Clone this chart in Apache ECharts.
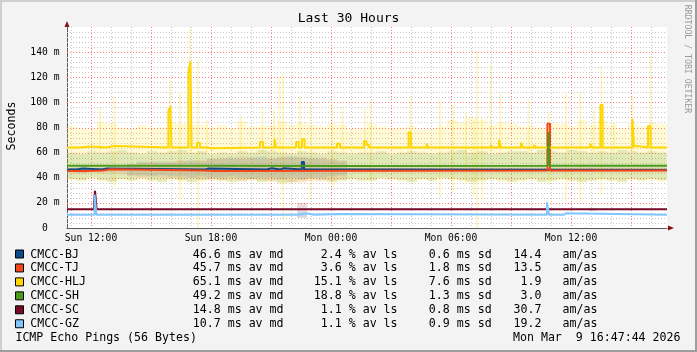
<!DOCTYPE html>
<html>
<head>
<meta charset="utf-8">
<script src="https://cdn.jsdelivr.net/npm/echarts@6/dist/echarts.min.js"></script>
<style>
html, body { margin: 0; padding: 0; background: #f3f3f3; }
#chart { width: 697px; height: 352px; }
</style>
</head>
<body>
<div id="chart"></div>
<script>
// time axis in hours since Sun 00:00
const xMin = 10.8, xMax = 40.8;
const yMin = 0, yMax = 160;
const minorHours = [11,13,14,16,17,19,20,22,23,25,26,28,29,31,32,34,35,37,38,40];
const majorHours = [12,15,18,21,24,27,30,33,36,39];
const xLabelHours = [12,18,24,30,36];
const xLabelTexts = ['Sun 12:00','Sun 18:00','Mon 00:00','Mon 06:00','Mon 12:00'];
const yMajor = [0,20,40,60,80,100,120,140];
const yMinor = [4,8,12,16,24,28,32,36,44,48,52,56,64,68,72,76,84,88,92,96,104,108,112,116,124,128,132,136,144,148,152,156];

const names  = ['CMCC-BJ','CMCC-TJ','CMCC-HLJ','CMCC-SH','CMCC-SC','CMCC-GZ'];
const colors = ['#0c4a88','#f5461a','#ffd700','#4a9a1e','#780a28','#82c6ff'];
const avgMs  = ['46.6','45.7','65.1','49.2','14.8','10.7'];
const lossPct = ['2.4','3.6','15.1','18.8','1.1','1.1'];
const sdMs   = ['0.6','1.8','7.6','1.3','0.8','0.9'];
const amas   = ['14.4','13.5','1.9','3.0','30.7','19.2'];

// median lines: [hour, ms] change points
const bjMedian = [[10.8,46.5],[11.3,47.3],[11.6,46.5],[12.54,47.3],[12.79,46.5],[17.7,47.3],[17.85,46.5],[20.79,47.5],[21.04,46.5],[21.45,47.5],[21.62,46.5],[22.54,52.6],[22.65,46.5],[24.3,46.2],[40.8,46.2]];
const tjMedian = [[10.8,45.4],[11.8,45.8],[12.6,46.8],[13.0,45.8],[17.6,45.3],[18.2,45.8],[34.82,82.9],[34.95,45.8],[40.8,45.8]];
const hljMedian = [[10.8,64],[11.45,64.8],[11.95,64],[12.75,65.2],[13.2,64],[15.87,93.5],[15.97,97],[16.02,64],[16.87,124.3],[16.97,132.7],[17.03,64],[17.3,67.7],[17.45,64],[17.8,63.4],[18.05,64],[20.45,68.5],[20.6,64],[21.18,70.7],[21.25,64],[22.25,68.5],[22.38,64],[22.55,70.7],[22.68,64],[24.3,67],[24.45,64],[25.65,69],[25.77,66],[25.9,64],[27.88,76.3],[28.0,64],[28.78,67],[28.87,64],[32.0,66],[32.05,64],[32.4,70],[32.5,64],[33.5,68],[33.6,64],[34.15,66],[34.25,64],[36.97,67],[37.07,64],[37.47,98],[37.58,64],[39.07,87],[39.15,65],[39.4,64],[39.85,81],[39.98,64],[40.8,64]];
const shMedian = [[10.8,49.6],[18.3,49.3],[24.6,49.6],[34.86,76.3],[34.92,49.6],[40.8,49.6]];
const scMedian = [[10.8,14.9],[12.15,20],[12.2,29.5],[12.28,14.9],[40.8,14.9]];
const gzMedian = [[10.8,10.6],[12.18,26.5],[12.27,10.6],[22.3,11.6],[22.8,10.6],[23.15,11.2],[24.4,10.6],[34.8,20.4],[34.9,10.6],[35.18,11.8],[35.28,10.6],[35.65,11.8],[35.76,10.6],[40.8,10.6]];

// smoke, 30 minute bins from xMin
const smokeStep = 0.5;
const hljHi = [81,79,79,84,83,80,79,82,80,80,84,83,82,82,80,82,80,85,81,81,82,85,82,84,82,81,83,82,79,79,83,81,79,80,81,78,79,81,86,84,88,86,82,84,83,81,81,80,83,83,81,86,82,86,82,79,83,81,84,83];
const hljLo = [38,37,39,37,36,38,37,38,37,36,38,37,36,37,38,37,36,37,38,36,37,35,36,37,38,37,36,37,38,37,37,39,38,37,36,38,37,39,38,37,36,37,38,37,36,37,38,36,37,38,37,36,37,38,37,36,38,37,38,37];
const shHi = [60,59,61,60,61,62,60,59,61,60,61,62,60,61,59,60,59,61,60,62,61,60,59,61,60,59,61,60,59,60,60,61,59,60,61,60,59,60,61,62,60,61,59,60,61,61,60,62,61,60,62,61,60,61,60,62,61,60,61,60];
const shLo = [39,38,40,38,37,39,38,40,38,37,39,38,37,38,39,38,37,38,39,37,38,36,37,38,39,38,37,38,39,38,38,40,39,38,37,39,38,40,39,38,37,38,39,38,37,38,39,37,38,39,38,37,38,39,38,37,39,38,39,38];
const tjHi = [48,48,48,48,48,48,51,52,53,52,53,54,53,54,55,56,55,57,56,55,56,57,56,57,55,56,55,54,48,48,48,48,48,48,48,48,48,48,48,48,48,48,48,48,48,48,48,48,48,48,48,48,48,48,48,48,48,48,48,48];
const tjLo = [43,43,44,43,43,43,41,40,41,40,40,39,40,39,38,38,39,37,38,38,37,38,36,36,37,38,38,39,44,44,44,44,44,44,44,44,44,44,44,44,44,44,44,44,44,44,44,44,44,44,44,44,44,44,44,44,44,44,44,44];
const bjHi = [48,49,48,48,48,48,51,53,52,53,52,53,54,53,55,55,56,55,56,57,55,56,57,56,56,55,54,53,48,48,48,48,48,48,48,48,48,48,48,48,48,48,48,48,48,48,48,48,48,48,48,48,48,48,48,48,48,48,48,48];
const bjLo = [45,44,45,45,45,45,42,42,41,42,41,41,40,41,40,40,41,40,39,40,40,39,40,39,40,40,41,42,45,45,45,45,45,45,45,45,45,45,45,45,45,45,45,45,45,45,45,45,45,45,45,45,45,45,45,45,45,45,45,45];
const scSmoke = [[22.3,22.8,8,20],[36.9,37.3,13.5,15.8]];
const gzSmoke = [[22.3,22.8,9,13],[23.15,24.4,10,12]];
// thin smoke spikes of CMCC-HLJ: [hour, low, high]
const hljSpikes = [[12.45,60,96],[13.17,33,105],[15.95,60,118],[16.45,22.5,107.5],[16.95,60,160],[17.35,0,134],[17.8,60,86],[19.48,60,90],[20.57,60,96],[21.15,60,94],[21.43,60,121],[21.6,6.6,123],[22.45,60,105],[22.98,22.6,100],[24.07,33,100],[24.57,60,97],[25.7,60,95],[25.98,38,102],[27.98,60,105],[29.45,24,102],[30.1,29,98],[30.75,35,92],[31.15,25,85],[31.3,0,141],[31.55,22,88],[31.98,60,130],[32.47,60,107],[33.88,60,102],[34.9,35,92],[35.75,21,107],[36.47,21,108.5],[37.15,60,94],[37.52,26,129],[38.15,60,84],[39.08,60,106],[39.97,60,137]];

const mono = 'DejaVu Sans Mono';
const gridGray = '#c8c8c8', gridRed = '#ff7878';

function bins(lo, hi) {
  return lo.map((v, i) => [xMin + i * smokeStep, xMin + (i + 1) * smokeStep, v, hi[i]]);
}

function bandSeries(data, fill) {
  return {
    type: 'custom',
    clip: true,
    silent: true,
    encode: { x: [0, 1], y: [2, 3] },
    data: data,
    renderItem: function (params, api) {
      const a = api.coord([api.value(0), api.value(3)]);
      const b = api.coord([api.value(1), api.value(2)]);
      return { type: 'rect', shape: { x: a[0], y: a[1], width: b[0] - a[0], height: b[1] - a[1] }, style: { fill: fill } };
    }
  };
}

function spikeSeries(data, fill) {
  return {
    type: 'custom',
    clip: true,
    silent: true,
    encode: { x: 0, y: [1, 2] },
    data: data,
    renderItem: function (params, api) {
      const a = api.coord([api.value(0), api.value(2)]);
      const b = api.coord([api.value(0), api.value(1)]);
      return { type: 'rect', shape: { x: a[0] - 1, y: a[1], width: 2, height: b[1] - a[1] }, style: { fill: fill } };
    }
  };
}

// dotted grid lines placed through the axis scales
function vGridSeries(hours, color) {
  return {
    type: 'custom', silent: true, z: 1,
    encode: { x: 0, y: 1 },
    data: hours.map(h => [h, yMin]),
    renderItem: function (params, api) {
      const top = api.coord([api.value(0), yMax]);
      const bot = api.coord([api.value(0), yMin]);
      const x = Math.round(top[0]) + 0.5;
      return { type: 'line', shape: { x1: x, y1: top[1], x2: x, y2: bot[1] }, style: { stroke: color, fill: null, lineWidth: 1, lineDash: [1, 2] } };
    }
  };
}

function hGridSeries(values, color) {
  return {
    type: 'custom', silent: true, z: 1,
    encode: { x: 0, y: 1 },
    data: values.map(v => [xMin, v]),
    renderItem: function (params, api) {
      const l = api.coord([xMin, api.value(1)]);
      const r = api.coord([xMax, api.value(1)]);
      const y = Math.round(l[1]) + 0.5;
      return { type: 'line', shape: { x1: l[0], y1: y, x2: r[0], y2: y }, style: { stroke: color, fill: null, lineWidth: 1, lineDash: [1, 2] } };
    }
  };
}

function medianSeries(data, color) {
  return {
    type: 'line',
    step: 'end',
    symbol: 'none',
    silent: true,
    data: data,
    lineStyle: { color: color, width: 2 },
    z: 5
  };
}

const medians = [bjMedian, tjMedian, hljMedian, shMedian, scMedian, gzMedian];

// legend block drawn as text
const legendTop = 254.5, rowGap = 13.95;
const legend = [];
names.forEach((n, i) => {
  const y = legendTop + i * rowGap;
  const txt = (x, s) => ({ type: 'text', x: x, y: y, style: { text: s, fontFamily: mono, fontSize: 11.6, fill: '#000', textAlign: 'left', textVerticalAlign: 'middle' } });
  legend.push({ type: 'rect', shape: { x: 15.5, y: y - 4.5, width: 8, height: 8 }, style: { fill: colors[i], stroke: '#000', lineWidth: 1 } });
  legend.push(txt(30.2, n));
  legend.push(txt(192.8, avgMs[i] + ' ms av md'));
  legend.push(txt(313.8, lossPct[i].padStart(4) + ' % av ls'));
  legend.push(txt(428.8, sdMs[i] + ' ms sd'));
  legend.push(txt(513.6, amas[i].padStart(4) + '   am/as'));
});

const chart = echarts.init(document.getElementById('chart'));
chart.setOption({
  animation: false,
  backgroundColor: '#f3f3f3',
  grid: { left: 67, top: 27, width: 600, height: 201, show: true, backgroundColor: '#ffffff', borderWidth: 0 },
  xAxis: {
    type: 'value', min: xMin, max: xMax,
    axisLine: { show: true, lineStyle: { color: '#5a5a5a', width: 1 } },
    axisTick: { show: false },
    axisLabel: {
      customValues: xLabelHours, margin: 5, fontFamily: mono, fontSize: 9.7, color: '#000',
      formatter: v => xLabelTexts[xLabelHours.indexOf(v)]
    },
    splitLine: { show: false }
  },
  yAxis: {
    type: 'value', min: yMin, max: yMax,
    axisLine: { show: true, lineStyle: { color: '#5a5a5a', width: 1 } },
    axisTick: { show: false },
    axisLabel: {
      customValues: yMajor, margin: 7.5, fontFamily: mono, fontSize: 9.7, color: '#000',
      formatter: v => v === 0 ? '0  ' : v + ' m'
    },
    splitLine: { show: false }
  },
  series: [
    vGridSeries(minorHours, gridGray),
    hGridSeries(yMinor, gridGray),
    vGridSeries(majorHours, gridRed),
    hGridSeries(yMajor.filter(v => v > 0), gridRed),
    bandSeries(bins(hljLo, hljHi), 'rgba(255,215,0,0.16)'),
    spikeSeries(hljSpikes, 'rgba(255,215,0,0.2)'),
    bandSeries(bins(shLo, shHi), 'rgba(76,154,30,0.17)'),
    bandSeries(bins(tjLo, tjHi), 'rgba(245,70,26,0.11)'),
    bandSeries(bins(bjLo, bjHi), 'rgba(12,74,136,0.1)'),
    bandSeries(scSmoke, 'rgba(120,10,40,0.14)'),
    bandSeries(gzSmoke, 'rgba(130,198,255,0.25)')
  ].concat(medians.map((m, i) => medianSeries(m, colors[i]))),
  graphic: [
    { type: 'rect', shape: { x: 0, y: 0, width: 697, height: 2 }, style: { fill: '#cfcfcf' } },
    { type: 'rect', shape: { x: 0, y: 0, width: 2, height: 352 }, style: { fill: '#cfcfcf' } },
    { type: 'rect', shape: { x: 695, y: 0, width: 2, height: 352 }, style: { fill: '#9e9e9e' } },
    { type: 'rect', shape: { x: 0, y: 350, width: 697, height: 2 }, style: { fill: '#9e9e9e' } },
    { type: 'polygon', shape: { points: [[64.5, 27], [69.5, 27], [67, 21]] }, style: { fill: '#8b1010' } },
    { type: 'polygon', shape: { points: [[668, 225.5], [668, 230.5], [674, 228]] }, style: { fill: '#8b1010' } },
    { type: 'text', x: 348.5, y: 19, style: { text: 'Last 30 Hours', fontFamily: mono, fontSize: 13, fill: '#000', textAlign: 'center', textVerticalAlign: 'middle' } },
    { type: 'text', x: 11.5, y: 126, rotation: Math.PI / 2, style: { text: 'Seconds', fontFamily: mono, fontSize: 11.6, fill: '#000', textAlign: 'center', textVerticalAlign: 'middle' } },
    { type: 'text', x: 686.7, y: 59, rotation: -Math.PI / 2, style: { text: 'RRDTOOL / TOBI OETIKER', fontFamily: mono, fontSize: 8.2, fill: '#9a9a9a', textAlign: 'center', textVerticalAlign: 'middle' } },
    { type: 'text', x: 15.4, y: legendTop + 6 * rowGap, style: { text: 'ICMP Echo Pings (56 Bytes)', fontFamily: mono, fontSize: 11.6, fill: '#000', textAlign: 'left', textVerticalAlign: 'middle' } },
    { type: 'text', x: 680.5, y: legendTop + 6 * rowGap, style: { text: 'Mon Mar  9 16:47:44 2026', fontFamily: mono, fontSize: 11.6, fill: '#000', textAlign: 'right', textVerticalAlign: 'middle' } }
  ].concat(legend)
});
</script>
</body>
</html>
